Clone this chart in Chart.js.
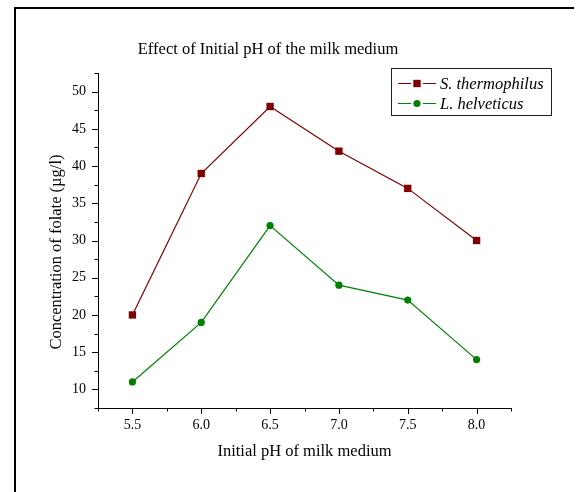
<!DOCTYPE html>
<html>
<head>
<meta charset="utf-8">
<title>Effect of Initial pH of the milk medium</title>
<script src="https://cdn.jsdelivr.net/npm/chart.js@4.4.1/dist/chart.umd.min.js"></script>
<style>
  html, body { margin:0; padding:0; background:#fff; }
  #wrap { width:579px; height:492px; }
</style>
</head>
<body>
<div id="wrap"><canvas id="chart" width="579" height="492"></canvas></div>
<script>
// ----- data -----
const phValues      = [5.5, 6.0, 6.5, 7.0, 7.5, 8.0];
const sThermophilus = [20, 39, 48, 42, 37, 30];
const lHelveticus   = [11, 19, 32, 24, 22, 14];
const seriesNames   = ['S. thermophilus', 'L. helveticus'];

const chartTitle = 'Effect of Initial pH of the milk medium';
const xTitle = 'Initial pH of milk medium';
const yTitle = 'Concentration of folate (\u00b5g/l)';

const SERIF = "'Liberation Serif', 'Times New Roman', serif";
const RED = '#800000', GREEN = '#008000';

const toPoints = (xs, ys) => xs.map((x, i) => ({ x, y: ys[i] }));
const isMult = (v, s) => Math.abs(v / s - Math.round(v / s)) < 1e-6;

// white page + frame lines
const framePlugin = {
  id: 'frame',
  beforeDraw(chart){
    const c = chart.ctx;
    c.save();
    c.fillStyle = '#fff';
    c.fillRect(0, 0, chart.width, chart.height);
    c.fillStyle = '#000';
    c.fillRect(14, 7, 2, chart.height - 7);   // left edge
    c.fillRect(14, 7, 560, 2);                // top edge
    c.restore();
  }
};

// outward tick marks (longer at labelled values) + the titles off the axis centre
const tickPlugin = {
  id: 'outTicks',
  afterDraw(chart){
    const c = chart.ctx, xs = chart.scales.x, ys = chart.scales.y;
    c.save();
    c.strokeStyle = '#000'; c.lineWidth = 1;
    c.beginPath();
    xs.ticks.forEach(t => {
      const px = Math.round(xs.getPixelForValue(t.value)) + 0.5;
      const len = isMult(t.value, 0.5) ? 6 : 3.5;
      c.moveTo(px, xs.top); c.lineTo(px, xs.top + len);
    });
    ys.ticks.forEach(t => {
      const py = Math.round(ys.getPixelForValue(t.value)) + 0.5;
      const len = isMult(t.value, 5) ? 6 : 3.5;
      c.moveTo(ys.right, py); c.lineTo(ys.right - len, py);
    });
    c.stroke();

    c.fillStyle = '#000';
    c.font = '16.5px ' + SERIF;
    c.textAlign = 'center'; c.textBaseline = 'middle';
    c.fillText(chartTitle, 268, 50);

    // y axis title, rotated
    c.translate(57, 252); c.rotate(-Math.PI / 2);
    c.fillText(yTitle, 0, 0);
    c.restore();
  }
};

// boxed legend sitting over the top-right corner of the plot
const legendPlugin = {
  id: 'boxLegend',
  afterDraw(chart){
    const c = chart.ctx;
    const bx = 391.5, by = 68.5, bw = 160, bh = 47;
    c.save();
    c.strokeStyle = '#222'; c.lineWidth = 1;
    c.fillStyle = '#fff';
    c.fillRect(bx, by, bw, bh);
    c.strokeRect(bx, by, bw, bh);
    chart.data.datasets.forEach((ds, i) => {
      const y = 83.5 + i * 20;
      c.strokeStyle = ds.borderColor; c.lineWidth = 1.2;
      c.beginPath();
      c.moveTo(398, y); c.lineTo(411, y);
      c.moveTo(423, y); c.lineTo(436, y);
      c.stroke();
      c.fillStyle = ds.backgroundColor;
      Chart.helpers.drawPoint(c, { pointStyle: ds.pointStyle, radius: ds.pointRadius, borderWidth: 0 }, 417, y);
      c.fillStyle = '#000';
      c.font = 'italic 16.5px ' + SERIF;
      c.textAlign = 'left'; c.textBaseline = 'middle';
      c.fillText(ds.label, 440, y + 1);
    });
    c.restore();
  }
};

new Chart(document.getElementById('chart'), {
  type: 'line',
  data: {
    datasets: [
      { label: seriesNames[0], data: toPoints(phValues, sThermophilus),
        borderColor: RED, backgroundColor: RED, borderWidth: 1.2,
        pointStyle: 'rect', pointRadius: 5.2, pointBorderWidth: 0 },
      { label: seriesNames[1], data: toPoints(phValues, lHelveticus),
        borderColor: GREEN, backgroundColor: GREEN, borderWidth: 1.2,
        pointStyle: 'circle', pointRadius: 3.6, pointBorderWidth: 0 }
    ]
  },
  options: {
    responsive: false,
    animation: false,
    layout: { padding: { left: 0, right: 68, top: 73, bottom: 0 } },
    plugins: {
      legend: { display: false },
      tooltip: { enabled: false },
      title: { display: false }
    },
    scales: {
      x: {
        type: 'linear', min: 5.25, max: 8.25,
        afterFit: s => { s.height = 84; },
        grid: { drawOnChartArea: false, drawTicks: false },
        border: { color: '#000', width: 1 },
        ticks: {
          stepSize: 0.25, padding: 9, color: '#000', maxRotation: 0, autoSkip: false,
          font: { family: SERIF, size: 14 },
          callback: v => isMult(v, 0.5) ? v.toFixed(1) : ''
        },
        title: {
          display: true, text: xTitle, color: '#000',
          font: { family: SERIF, size: 16.5 },
          padding: { top: 0, bottom: 30 }
        }
      },
      y: {
        min: 7.5, max: 52.5,
        afterFit: s => { s.width = 98; },
        grid: { drawOnChartArea: false, drawTicks: false },
        border: { color: '#000', width: 1 },
        ticks: {
          stepSize: 2.5, padding: 12, color: '#000', autoSkip: false,
          font: { family: SERIF, size: 14 },
          callback: v => isMult(v, 5) ? String(v) : ''
        }
      }
    }
  },
  plugins: [framePlugin, tickPlugin, legendPlugin]
});
</script>
</body>
</html>
